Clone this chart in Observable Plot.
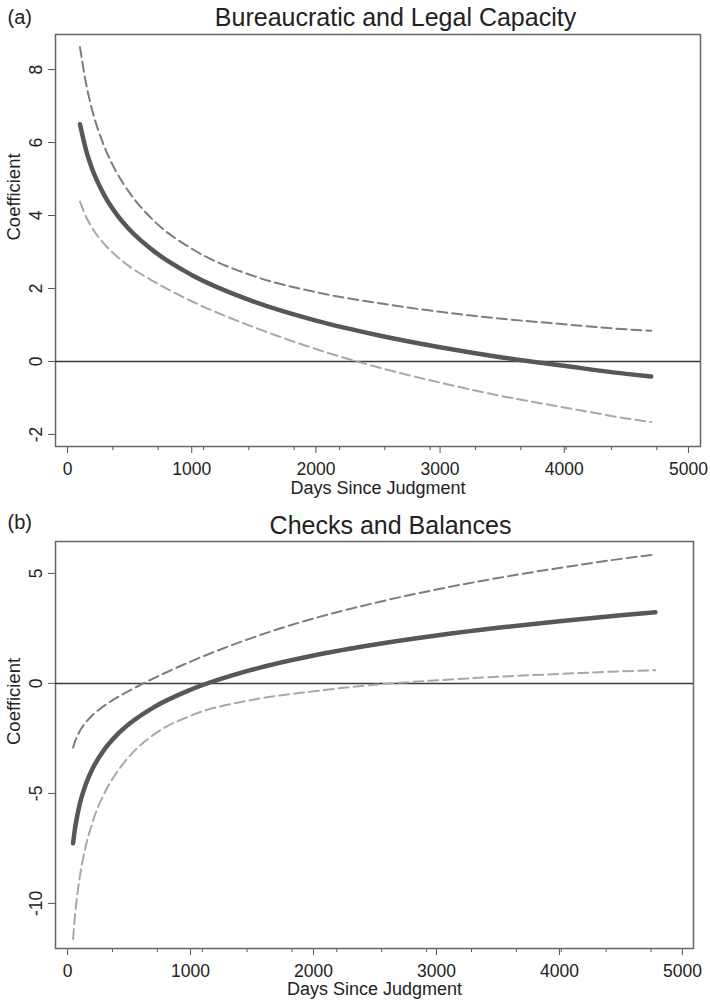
<!DOCTYPE html>
<html><head><meta charset="utf-8">
<script src="https://cdn.jsdelivr.net/npm/d3@7"></script>
<script src="https://cdn.jsdelivr.net/npm/@observablehq/plot@0.6"></script>
<style>
body{margin:0;background:#fff;}
#chart svg{display:block;}
</style></head><body><div id="chart"></div>
<script>
// Panel (a): Bureaucratic and Legal Capacity
const daysA  = [100,150,200,300,400,500,700,1000,1500,2000,2500,3000,3500,4000,4500,4700];
const estA   = [6.50,5.78,5.26,4.53,4.01,3.61,3.01,2.37,1.64,1.12,0.72,0.39,0.11,-0.12,-0.34,-0.41];
const upperA = [8.62,7.60,6.87,5.86,5.15,4.62,3.84,3.09,2.34,1.90,1.60,1.36,1.17,1.02,0.88,0.84];
const lowerA = [4.38,3.96,3.65,3.20,2.87,2.60,2.18,1.65,0.94,0.34,-0.16,-0.58,-0.95,-1.26,-1.56,-1.66];
// Panel (b): Checks and Balances
const daysB  = [45,60,80,100,150,200,300,400,500,700,1000,1500,2000,2500,3000,3500,4000,4500,4780];
const estB   = [-7.27,-6.62,-5.98,-5.47,-4.56,-3.91,-3.00,-2.35,-1.85,-1.09,-0.29,0.62,1.27,1.77,2.18,2.53,2.83,3.10,3.23];
const upperB = [-2.92,-2.65,-2.39,-2.16,-1.76,-1.46,-1.01,-0.65,-0.34,0.23,0.99,2.07,2.95,3.66,4.27,4.79,5.25,5.66,5.86];
const lowerB = [-11.62,-10.59,-9.57,-8.78,-7.36,-6.36,-4.99,-4.05,-3.33,-2.33,-1.47,-0.75,-0.36,-0.06,0.14,0.30,0.43,0.55,0.60];

const xTicks = [0,1000,2000,3000,4000,5000];
const xMinorTicks = [365,730,1095,1460,1825,2190,2555,2920,3285,3650,4015,4380,4745];
const yTicksA = [-2,0,2,4,6,8];
const yTicksB = [-10,-5,0,5];
const xDomainA = [-97,5097], yDomainA = [-2.33,8.96];
const xDomainB = [-98,5090], yDomainB = [-12.05,6.45];
const panelLabels = ["(a)","(b)"];
const titles = ["Bureaucratic and Legal Capacity","Checks and Balances"];
const xLabel = "Days Since Judgment";
const yLabel = "Coefficient";

const FONT = "'Liberation Sans', Arial, Helvetica, sans-serif";
const plain = d => String(d);

function panel(o) {
  const rows = o.days.map((d,i)=>({d, est:o.est[i], upper:o.upper[i], lower:o.lower[i]}));
  return Plot.plot({
    width: 710, height: o.height,
    marginTop: o.mt, marginBottom: o.mb, marginLeft: 55, marginRight: o.mr,
    x: {domain: o.xDomain},
    y: {domain: o.yDomain},
    style: {fontFamily: FONT, background: "#fff", color: "#222", overflow: "visible"},
    marks: [
      Plot.axisX({ticks: xTicks, tickFormat: plain, tickSize: 7, tickPadding: 9, fontSize: 17.5, stroke: "#555", label: null}),
      Plot.axisX({ticks: xMinorTicks, tickSize: 4, tickFormat: () => "", stroke: "#555", label: null}),
      Plot.axisY({ticks: o.yTicks, tickFormat: plain, tickSize: 7, tickPadding: 7, tickRotate: -90, fontSize: 17.5, stroke: "#555", label: null}),
      Plot.frame({stroke: "#666", strokeWidth: 1.5}),
      Plot.ruleY([0], {stroke: "#3a3a3a", strokeWidth: 1.5}),
      Plot.line(rows, {x: "d", y: "upper", stroke: "#7d7d7d", strokeWidth: 2, strokeDasharray: "10,5", curve: "monotone-x"}),
      Plot.line(rows, {x: "d", y: "lower", stroke: "#a8a8a8", strokeWidth: 2, strokeDasharray: "10,5", curve: "monotone-x"}),
      Plot.line(rows, {x: "d", y: "est", stroke: "#575757", strokeWidth: 4.5, strokeLinecap: "round", curve: "monotone-x"}),
      Plot.text([o.title], {text: d => d, frameAnchor: "top", lineAnchor: "bottom", dx: o.tdx, dy: o.tdy, fontSize: 25, fill: "#222"}),
      Plot.text([o.label], {text: d => d, frameAnchor: "top-left", textAnchor: "start", lineAnchor: "bottom", dx: -48, dy: o.ldy, fontSize: 20, fill: "#222"}),
      Plot.text([xLabel], {text: d => d, frameAnchor: "bottom", lineAnchor: "bottom", dy: o.xdy, fontSize: 18, fill: "#222"}),
      Plot.text([yLabel], {text: d => d, frameAnchor: "left", rotate: -90, lineAnchor: "bottom", dx: -36, fontSize: 18.5, fill: "#222"})
    ]
  });
}

const chart = document.getElementById("chart");
chart.append(panel({days: daysA, est: estA, upper: upperA, lower: lowerA,
  xDomain: xDomainA, yDomain: yDomainA, yTicks: yTicksA,
  height: 497, mt: 34, mb: 51, mr: 10,
  title: titles[0], tdx: 17.5, tdy: -9, label: panelLabels[0], ldy: -11, xdy: 47.5}));
chart.append(panel({days: daysB, est: estB, upper: upperB, lower: lowerB,
  xDomain: xDomainB, yDomain: yDomainB, yTicks: yTicksB,
  height: 504, mt: 44, mb: 53, mr: 17,
  title: titles[1], tdx: 16, tdy: -8, label: panelLabels[1], ldy: -12.5, xdy: 46.5}));
</script>
</body></html>
